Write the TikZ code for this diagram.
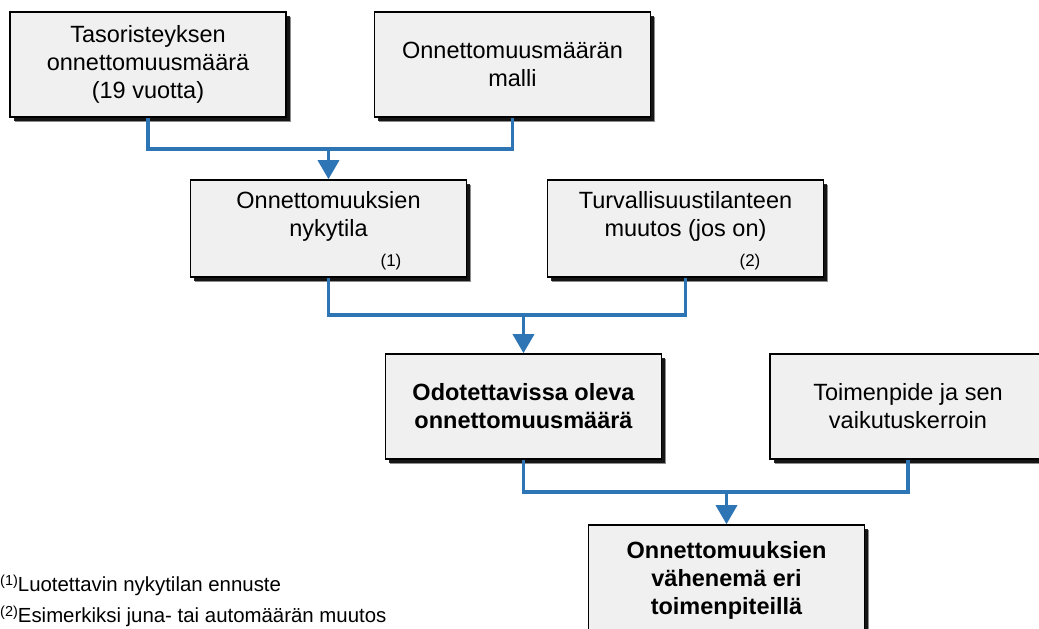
\documentclass[tikz,border=0pt]{standalone}
\usepackage{fontspec}
\setmainfont{Liberation Sans}
\usetikzlibrary{arrows.meta,shadows}
\definecolor{conncol}{RGB}{46,117,182}
\definecolor{boxfill}{RGB}{240,240,240}
\begin{document}
\begin{tikzpicture}[x=1pt,y=-1pt,
  box/.style={draw=black,line width=1.6pt,fill=boxfill,minimum width=276pt,
    align=center,inner sep=0pt,font=\fontsize{23.5}{28}\selectfont,
    drop shadow={shadow xshift=4.5pt,shadow yshift=-4.5pt,fill=black,opacity=0.45},
    drop shadow={shadow xshift=3.5pt,shadow yshift=-3.5pt,fill=black,opacity=0.85}},
  txt/.style={font=\fontsize{23.5}{28}\selectfont,align=center,inner sep=0pt},
  small/.style={font=\fontsize{17}{20}\selectfont,inner sep=0pt},
  foot/.style={font=\fontsize{20.4}{25}\selectfont,inner sep=0pt,anchor=base west},
  conn/.style={draw=conncol,line width=3.5pt},
  arr/.style={conn,-{Triangle[width=21pt,length=19pt]}},
]
\useasboundingbox (0,0) rectangle (1039,629);
\clip (0,0) rectangle (1039,629);

% row 1
\node[box,minimum height=105pt] (b1) at (148,64.5)
  {Tasoristeyksen\\onnettomuusmäärä\\(19 vuotta)};
\node[box,minimum height=105pt] (b2) at (512.5,64.5)
  {Onnettomuusmäärän\\malli};

% row 2
\node[box,minimum height=97pt] (b3) at (328.5,228.5) {};
\node[txt] (t3) at (328.5,216) {Onnettomuuksien\\nykytila};
\node[small] (n1) at (391,262) {(1)};
\node[box,minimum height=97pt] (b4) at (685.5,228.5) {};
\node[txt] (t4) at (685.5,216) {Turvallisuustilanteen\\muutos (jos on)};
\node[small] (n2) at (750,262) {(2)};

% row 3
\node[box,minimum height=105pt,font=\fontsize{23.5}{28}\selectfont\bfseries] (b5) at (523.5,406.5)
  {Odotettavissa oleva\\onnettomuusmäärä};
\node[box,minimum height=105pt] (b6) at (908,406.5)
  {Toimenpide ja sen\\vaikutuskerroin};

% row 4
\node[box,minimum height=110pt,font=\fontsize{23.5}{28}\selectfont\bfseries] (b7) at (726.5,580)
  {Onnettomuuksien\\vähenemä eri\\toimenpiteillä};

% footnotes
\node[foot] (f1) at (0,591) {\raisebox{6pt}{\fontsize{14.5}{15}\selectfont(1)}Luotettavin nykytilan ennuste};
\node[foot] (f2) at (0,622) {\raisebox{6pt}{\fontsize{14.5}{15}\selectfont(2)}Esimerkiksi juna- tai automäärän muutos};

% connectors
\coordinate (j1) at (b3.north |- 0,149);
\draw[conn] (b1.south) |- (j1) -| (b2.south);
\draw[arr] (j1) -- (b3.north);

\coordinate (j2) at (b5.north |- 0,315);
\draw[conn] (b3.south) |- (j2) -| (b4.south);
\draw[arr] (j2) -- (b5.north);

\coordinate (j3) at (b7.north |- 0,492);
\draw[conn] (b5.south) |- (j3) -| (b6.south);
\draw[arr] (j3) -- (b7.north);
\end{tikzpicture}
\end{document}
